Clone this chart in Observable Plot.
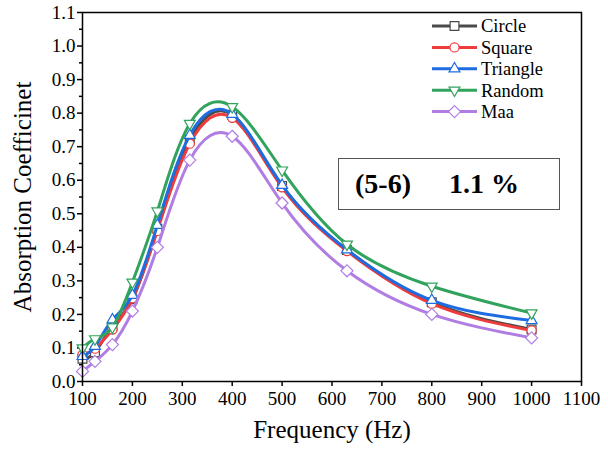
<!DOCTYPE html>
<html><head><meta charset="utf-8">
<script src="https://cdn.jsdelivr.net/npm/d3@7"></script>
<script src="https://cdn.jsdelivr.net/npm/@observablehq/plot@0.6"></script>
<style>
body{margin:0;background:#fff;}
#wrap{position:relative;width:608px;height:451px;font-family:'Liberation Serif';}
html body #wrap svg text, html body #wrap svg tspan{font-family:'Liberation Serif' !important;}
#wrap svg.overlay{position:absolute;left:0;top:0;pointer-events:none;}
#box{position:absolute;left:338px;top:158px;width:222px;height:52px;box-sizing:border-box;border:1.5px solid #555;background:#fff;}
#box span{position:absolute;top:7px;font-size:28px;font-weight:bold;line-height:36px;white-space:pre;}
</style></head><body><div id="wrap"><div id="box"><span id="b1" style="left:16px;font-family:'Liberation Serif'"></span><span id="b2" style="left:110px;font-family:'Liberation Serif'"></span></div></div>
<script>
const frequencies = [100, 125, 160, 200, 250, 315, 400, 500, 630, 800, 1000];
const circleValues   = [0.068, 0.087, 0.165, 0.245, 0.455, 0.720, 0.795, 0.583, 0.392, 0.236, 0.155];
const squareValues   = [0.080, 0.098, 0.155, 0.248, 0.449, 0.709, 0.786, 0.579, 0.389, 0.232, 0.152];
const triangleValues = [0.075, 0.105, 0.184, 0.257, 0.466, 0.734, 0.797, 0.585, 0.393, 0.242, 0.182];
const randomValues   = [0.100, 0.127, 0.162, 0.296, 0.508, 0.769, 0.819, 0.630, 0.409, 0.284, 0.204];
const maaValues      = [0.030, 0.060, 0.110, 0.210, 0.400, 0.660, 0.731, 0.532, 0.330, 0.200, 0.130];
const seriesNames = ["Circle", "Square", "Triangle", "Random", "Maa"];
const seriesColors = ["#4a4a4a", "#ee3b3b", "#1d6de0", "#32a35c", "#b07de3"];
const xTicks = [100, 200, 300, 400, 500, 600, 700, 800, 900, 1000, 1100];
const yTicks = [0.0, 0.1, 0.2, 0.3, 0.4, 0.5, 0.6, 0.7, 0.8, 0.9, 1.0, 1.1];
const yMinorTicks = [0.05, 0.15, 0.25, 0.35, 0.45, 0.55, 0.65, 0.75, 0.85, 0.95, 1.05];
const boxLabel = ["(5-6)", "1.1 %"];

const allValues = [circleValues, squareValues, triangleValues, randomValues, maaValues];
const rows = [];
seriesNames.forEach((s, i) => frequencies.forEach((f, j) => rows.push({series: s, freq: f, value: allValues[i][j]})));

const invTriangle = {
  draw(context, size) {
    const s = Math.sqrt(size) * 0.6824, t = s / 2, u = s * Math.sqrt(3) / 2;
    context.moveTo(0, s); context.lineTo(u, -t); context.lineTo(-u, -t); context.closePath();
  }
};
const symbols = [d3.symbolSquare2, d3.symbolCircle, d3.symbolTriangle2, invTriangle, d3.symbolDiamond2];
const symbolR = [5.6, 4.6, 5.2, 5.2, 5.4];

const font = "Liberation Serif";
const marks = [
  Plot.axisX({ticks: xTicks, tickSize: 5, tickPadding: 5, tickFormat: d => String(d), label: null, fontSize: 19, strokeWidth: 1.5}),
  Plot.axisY({ticks: yTicks, tickSize: 5, tickPadding: 2, tickFormat: d => d.toFixed(1), label: null, fontSize: 19, strokeWidth: 1.5}),
  Plot.axisY({ticks: yMinorTicks, tickSize: 3, tickFormat: () => "", label: null, strokeWidth: 1.5}),
];
seriesNames.forEach((s, i) => {
  const data = rows.filter(d => d.series === s);
  marks.push(Plot.line(data, {x: "freq", y: "value", stroke: seriesColors[i], strokeWidth: 3, curve: "natural"}));
  marks.push(Plot.dot(data, {x: "freq", y: "value", symbol: symbols[i], r: symbolR[i], fill: "white", stroke: seriesColors[i], strokeWidth: 1.2}));
});
marks.push(Plot.frame({stroke: "black", strokeWidth: 1.5}));
marks.push(Plot.text(["Frequency (Hz)"], {text: d => d, frameAnchor: "bottom", textAnchor: "middle", dy: 56, fontSize: 25}));
marks.push(Plot.text(["Absorption Coefficinet"], {text: d => d, frameAnchor: "left", textAnchor: "middle", rotate: -90, dx: -60, fontSize: 25}));

const chart = Plot.plot({
  width: 608, height: 451,
  marginLeft: 82, marginRight: 27, marginTop: 12, marginBottom: 70,
  style: {fontSize: "19px", color: "black", background: "white"},
  x: {domain: [100, 1100], label: null},
  y: {domain: [0, 1.1], label: null},
  marks
});
const wrap = document.getElementById("wrap");
wrap.insertBefore(chart, wrap.firstChild);
chart.setAttribute("font-family", font);
chart.querySelectorAll("g, text").forEach(el => {
  if (el.hasAttribute("font-family")) el.setAttribute("font-family", font);
});
chart.querySelectorAll("text").forEach(el => el.setAttribute("style", (el.getAttribute("style") || "") + ";font-family:'Liberation Serif' !important"));

// legend overlay
const ov = d3.select(wrap).append("svg").attr("class", "overlay").attr("width", 608).attr("height", 451);
seriesNames.forEach((s, i) => {
  const y = 26 + i * 21.4;
  const g = ov.append("g").attr("transform", `translate(0,${y})`);
  g.append("line").attr("x1", 432).attr("x2", 477).attr("y1", 0).attr("y2", 0).attr("stroke", seriesColors[i]).attr("stroke-width", 3);
  g.append("path").attr("transform", "translate(454.5,0)")
    .attr("d", d3.symbol(symbols[i], Math.PI * symbolR[i] * symbolR[i])())
    .attr("fill", "white").attr("stroke", seriesColors[i]).attr("stroke-width", 1.2);
  g.append("text").attr("x", 481).attr("y", 0).attr("dy", "0.35em").attr("font-size", 18.5)
    .attr("style", "font-family:'Liberation Serif' !important").text(s);
});
document.getElementById("b1").textContent = boxLabel[0];
document.getElementById("b2").textContent = boxLabel[1];
</script></body></html>
